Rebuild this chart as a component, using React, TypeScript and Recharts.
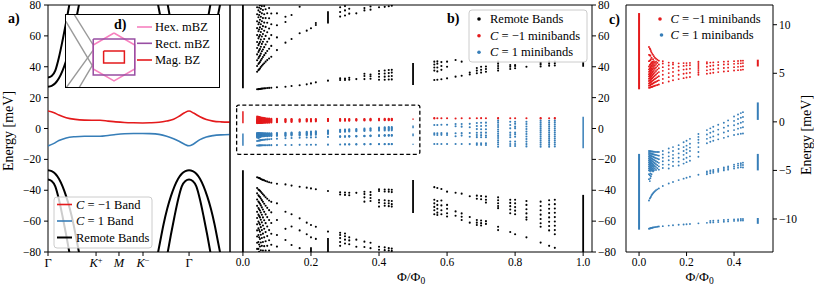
import React from 'react'
import { ComposedChart, Line, Scatter, XAxis, YAxis, ReferenceArea, ReferenceLine } from 'recharts'

const RED = '#e41a1c'
const BLUE = '#377eb8'
const PINK = '#f781bf'
const PURPLE = '#984ea3'
const GREY = '#999999'
const INK = '#000000'
const FONT = '"Liberation Serif", "Times New Roman", serif'
const W = 814
const H = 287
const AX = 30 // room kept for each axis

// ── a) bands along Γ – K+ – M – K− – Γ ──────────────────────────────────
const PATH_TICKS = [0, 0.264, 0.39, 0.522, 0.775]
const PATH_LABELS = ['Γ', 'K+', 'M', 'K−', 'Γ']
const BAND_K = [0, 0.03, 0.06, 0.1, 0.15, 0.2, 0.24, 0.286, 0.33, 0.372, 0.42, 0.469, 0.52, 0.56, 0.61, 0.652, 0.69, 0.72, 0.75, 0.775, 0.8, 0.835, 0.87, 0.907, 0.95, 1]
const BAND_CM1 = [11.3, 10.4, 8.7, 7.0, 5.9, 5.4, 5.3, 5.3, 4.8, 4.3, 3.9, 3.7, 3.6, 3.7, 4.0, 4.8, 6.0, 7.9, 10.2, 11.3, 10.0, 7.6, 5.8, 4.8, 4.3, 4.1]
const BAND_C1 = [-11.3, -9.8, -7.8, -6.1, -5.3, -5.0, -5.0, -5.0, -4.5, -3.9, -3.4, -3.2, -3.2, -3.3, -3.8, -5.0, -6.6, -8.3, -10.2, -11.2, -10.0, -7.2, -5.5, -4.6, -4.1, -3.9]
// remote bands around each Γ: distance along path, |E|
const REMOTE_DK = [0, 0.02, 0.04, 0.06, 0.08, 0.1, 0.12, 0.14, 0.16, 0.18]
const REMOTE_INNER = [27, 27.6, 29.3, 32.5, 37.5, 44, 52, 62, 74, 86]
const REMOTE_OUTER = [33, 34, 37.5, 46, 57, 69, 82]

// ── d) inset zones (hexagon radius = 1) ─────────────────────────────────
const HEX_BZ = [[0, 1], [0.866, 0.5], [0.866, -0.5], [0, -1], [-0.866, -0.5], [-0.866, 0.5], [0, 1]]
const RECT_BZ = [[-0.866, 0.75], [0.866, 0.75], [0.866, -0.75], [-0.866, -0.75], [-0.866, 0.75]]
const MAG_BZ = [[-0.433, 0.25], [0.433, 0.25], [0.433, -0.25], [-0.433, -0.25], [-0.433, 0.25]]
const GREY_EDGES = [
  [[-2.04, 1.54], [-0.866, -0.42]],
  [[-1.67, 1.79], [-0.866, 0.5]],
  [[-0.866, 0.29], [-2.0, -1.29]],
  [[-0.866, -0.29], [-1.46, -1.29]],
]

// ── b), c) Hofstadter spectrum, Φ/Φ0 < 1/2 ──────────────────────────────
const FLUX_LO = [0.0417, 0.0455, 0.0476, 0.05, 0.0526, 0.0556, 0.0588, 0.0625, 0.0667, 0.0714, 0.0769, 0.0833, 0.1, 0.125, 0.1429, 0.1667, 0.1875, 0.2, 0.2143, 0.25, 0.2857, 0.3, 0.3125, 0.3333, 0.3571, 0.375, 0.4, 0.4167, 0.4286, 0.4375]

const CM1_LO = [
  [3.5, 3.72, 3.95, 4.2, 4.43, 4.68, 4.9, 5.15, 5.4, 5.7, 6.25, 6.9, 7.7],
  [3.52, 3.76, 4.0, 4.25, 4.5, 4.74, 4.98, 5.23, 5.5, 5.85, 6.3, 6.85, 7.55],
  [3.55, 3.8, 4.06, 4.3, 4.56, 4.8, 5.05, 5.3, 5.58, 5.9, 6.35, 6.8, 7.45],
  [3.57, 3.84, 4.1, 4.37, 4.63, 4.9, 5.15, 5.42, 5.7, 6.0, 6.45, 7.3],
  [3.6, 3.88, 4.16, 4.44, 4.7, 4.98, 5.26, 5.52, 5.8, 6.1, 6.6, 7.15],
  [3.62, 3.92, 4.22, 4.5, 4.8, 5.1, 5.38, 5.66, 5.95, 6.2, 7.0],
  [3.65, 3.96, 4.27, 4.58, 4.9, 5.2, 5.5, 5.8, 6.1, 6.45, 6.9],
  [3.68, 4.02, 4.35, 4.68, 5.0, 5.33, 5.65, 5.95, 6.25, 6.75],
  [3.72, 4.07, 4.42, 4.77, 5.12, 5.46, 5.8, 6.1, 6.6],
  [3.76, 4.13, 4.5, 4.87, 5.24, 5.6, 5.95, 6.2, 6.5],
  [3.8, 4.2, 4.6, 5.0, 5.38, 5.75, 6.08, 6.4],
  [3.85, 4.27, 4.7, 5.12, 5.52, 5.9, 6.3],
  [4.0, 4.42, 4.85, 5.25, 5.63, 6.0, 6.25],
  [4.15, 4.6, 5.02, 5.43, 5.8, 6.1],
  [4.28, 4.72, 5.14, 5.55, 5.9, 6.08],
  [4.4, 4.85, 5.28, 5.68, 6.02],
  [4.5, 4.95, 5.38, 5.76, 6.05],
  [4.56, 5.0, 5.42, 5.8, 6.05],
  [4.62, 5.05, 5.47, 5.83, 6.07],
  [4.85, 5.05, 5.25, 5.45, 5.65, 5.85, 6.05, 6.2],
  [4.95, 5.3, 5.68, 6.0, 6.15],
  [5.0, 5.38, 5.75, 6.1],
  [5.05, 5.42, 5.8, 6.12],
  [5.12, 5.5, 5.86, 6.15],
  [5.18, 5.55, 5.9, 6.2],
  [5.22, 5.58, 5.93, 6.22],
  [5.28, 5.63, 5.97, 6.25],
  [5.32, 5.66, 6.0, 6.27],
  [5.35, 5.69, 6.02, 6.29],
  [5.38, 5.72, 6.05, 6.3],
]

const C1_LO = [
  [-3.0, -3.2, -3.4, -3.6, -3.8, -4.0, -4.2, -4.4, -4.6, -4.8, -5.0, -5.4, -5.9, -8.1, -11.0],
  [-3.02, -3.22, -3.43, -3.63, -3.84, -4.04, -4.25, -4.45, -4.66, -4.86, -5.05, -5.5, -6.1, -7.9, -10.98],
  [-3.03, -3.25, -3.46, -3.68, -3.9, -4.1, -4.32, -4.53, -4.74, -4.95, -5.3, -5.8, -7.8, -10.96],
  [-3.04, -3.27, -3.5, -3.72, -3.95, -4.18, -4.4, -4.62, -4.84, -5.05, -5.6, -7.7, -10.94],
  [-3.05, -3.29, -3.53, -3.77, -4.0, -4.24, -4.48, -4.7, -4.93, -5.4, -7.55, -10.92],
  [-3.06, -3.31, -3.56, -3.81, -4.06, -4.31, -4.55, -4.79, -5.02, -7.45, -10.9],
  [-3.07, -3.34, -3.6, -3.86, -4.12, -4.38, -4.63, -4.88, -5.1, -7.35, -10.88],
  [-3.08, -3.36, -3.64, -3.92, -4.2, -4.47, -4.74, -5.0, -7.25, -10.86],
  [-3.09, -3.39, -3.69, -3.98, -4.27, -4.56, -4.84, -7.15, -10.84],
  [-3.1, -3.42, -3.74, -4.05, -4.36, -4.66, -4.95, -7.05, -10.82],
  [-3.1, -3.45, -3.79, -4.13, -4.46, -4.78, -6.95, -10.8],
  [-3.1, -3.48, -3.85, -4.22, -4.58, -4.92, -6.85, -10.78],
  [-3.0, -3.35, -3.7, -4.05, -4.4, -4.75, -6.6, -10.74],
  [-2.75, -3.15, -3.55, -3.95, -4.4, -4.8, -6.35, -10.68],
  [-2.6, -3.0, -3.4, -3.75, -4.1, -4.55, -6.2, -10.65],
  [-2.4, -2.8, -3.25, -3.7, -4.1, -4.5, -6.0, -10.6],
  [-2.1, -2.6, -3.0, -3.4, -3.85, -4.3, -5.85, -10.57],
  [-1.95, -2.45, -2.85, -3.2, -3.7, -4.15, -5.75, -10.55],
  [-1.75, -2.25, -2.65, -3.0, -3.55, -4.0, -5.65, -10.52],
  [-1.25, -1.55, -1.85, -2.15, -2.6, -3.1, -3.6, -5.45, -10.45],
  [-0.85, -1.3, -1.75, -2.2, -5.1, -5.25, -5.4, -10.4],
  [-0.67, -1.12, -1.6, -2.05, -5.0, -5.15, -5.3, -10.37, -10.2],
  [-0.5, -1.0, -1.5, -1.95, -4.95, -5.1, -5.25, -10.35, -10.18],
  [-0.3, -0.8, -1.3, -1.8, -4.85, -5.0, -5.15, -10.32, -10.15],
  [-0.1, -0.6, -1.1, -1.65, -4.7, -4.85, -5.0, -10.28, -10.1],
  [0.15, -0.4, -0.95, -1.5, -4.6, -4.75, -4.92, -10.25, -10.08],
  [0.55, 0.1, -0.35, -0.85, -1.35, -4.4, -4.6, -4.8, -10.2, -10.05],
  [0.75, 0.3, -0.2, -0.7, -1.28, -4.3, -4.5, -4.72, -10.18, -10.02],
  [0.9, 0.42, -0.1, -0.62, -1.22, -4.25, -4.45, -4.68, -10.16, -10.0],
  [1.0, 0.5, 0.0, -0.55, -1.2, -4.2, -4.45, -4.7, -10.15, -10.0],
]

const REMOTE_UP_LO = [
  [25.4, 36.8, 40.5, 44.2, 48, 52.1, 56, 60.5, 65, 69.4, 74, 78.5],
  [25.5, 37.8, 41.8, 45.5, 49.6, 54, 58.4, 63, 67.5, 72.1, 76.5],
  [25.55, 38.3, 42.4, 46.4, 50.6, 55, 59.5, 64.1, 68.7, 73.5, 78.3],
  [25.6, 38.9, 43, 47.2, 51.5, 56, 60.6, 65.5, 70.4, 75.5, 79.8],
  [25.7, 39.8, 44.1, 48.5, 53, 57.6, 62.5, 67.5, 72.4, 77.5],
  [25.8, 40.6, 45.2, 50, 54.8, 59.6, 64.5, 69.5, 74.6, 79.3],
  [25.9, 41.5, 46.3, 51.2, 56.2, 61.2, 66.3, 71.5, 76.8],
  [26.0, 42.3, 47.5, 52.7, 58, 63.3, 68.6, 74, 79.3],
  [26.1, 43.3, 48.8, 54.4, 60, 65.8, 71.5, 77.2],
  [26.2, 44.3, 50.2, 56.2, 62.3, 68.5, 74.7],
  [26.3, 45.3, 51.7, 58.2, 64.8, 71.4, 78],
  [26.4, 46.5, 53.5, 60.5, 67.5, 74.5],
  [26.7, 50.8, 59, 66.9, 74.6],
  [27.0, 55.6, 69, 72.4],
  [27.5, 58.0, 73.5],
  [28.0, 61.7, 78.9],
  [28.6, 63.4],
  [29.2, 64.9],
  [29.9, 67, 68.3],
  [31.0],
  [31.4, 32.5, 72.5, 75.5, 78.5],
  [31.4, 32.3, 73.2, 76.5, 79.3],
  [31.6, 32.8, 74.4, 77.6],
  [32.0, 74.6],
  [32.0, 34.0, 35.5, 76.5, 78],
  [32.2, 33.8, 35.0, 77, 79],
  [31.6, 33.5, 35.4, 37.2, 78.5],
  [31.6, 33.6, 35.6, 37.6, 78.8],
  [31.7, 33.8, 35.9, 37.9, 79.2],
  [31.8, 34.0, 36.2, 38.0, 79.5],
]

const REMOTE_DN_LO = [
  [-31.6, -38.5, -42, -46, -50.1, -54, -58, -62.1, -66, -70, -74, -78],
  [-31.9, -39.5, -43.3, -47.3, -51.5, -55.8, -60.2, -64.6, -69, -73.5, -78],
  [-32.1, -39.9, -43.9, -48, -52.3, -56.7, -61.2, -65.8, -70.4, -75.1, -79.8],
  [-32.3, -40.3, -44.4, -48.7, -53.1, -57.6, -62.2, -66.9, -71.6, -76.4],
  [-32.7, -41, -45.3, -49.8, -54.4, -59.1, -63.9, -68.8, -73.8, -78.9],
  [-33.0, -41.8, -46.4, -51.1, -55.9, -60.8, -65.8, -70.9, -76],
  [-33.3, -42.6, -47.5, -52.5, -57.6, -62.8, -68.1, -73.5, -79],
  [-33.6, -43.5, -48.7, -54, -59.4, -64.9, -70.5, -76.2],
  [-34.0, -44.5, -50, -55.6, -61.3, -67.1, -73, -79],
  [-34.4, -45.5, -51.4, -57.4, -63.5, -69.7, -76],
  [-34.8, -46.6, -52.9, -59.3, -65.8, -72.4, -79],
  [-35.1, -47.5, -54.3, -61.2, -68.2, -75.3],
  [-35.8, -48.5, -59.3, -69, -76.5],
  [-36.2, -53.9, -65, -72.2],
  [-37.0, -55.5, -63.5, -75.5],
  [-37.7, -58.2, -66, -77.5],
  [-38.3, -61, -68.5],
  [-38.8, -62.5, -70.5],
  [-39.4, -63.6, -71.5],
  [-40.5, -66.8],
  [-41.3, -42.8, -67.5, -69, -71, -73.5, -76],
  [-41.5, -43.0, -68, -69.8, -72, -74.5],
  [-41.6, -43.2, -70.5, -72.5, -75],
  [-41.7, -72, -76.6],
  [-41, -42.5, -44.6, -47.4, -73.3, -76.8],
  [-41.2, -43, -45, -47, -74, -77.5],
  [-39.4, -40.5, -46.3, -48, -50.6, -76.6, -78.5],
  [-39.5, -40.8, -46.5, -48.4, -50, -77, -78.8],
  [-39.6, -41, -46.8, -48.5, -50.3, -77.5, -79],
  [-39.7, -41.2, -47, -49, -50.6, -77.8, -79.3],
]

// ── b) Φ/Φ0 > 1/2 ───────────────────────────────────────────────────────
const FLUX_HI = [0.5625, 0.5714, 0.5833, 0.6, 0.625, 0.6429, 0.6667, 0.6875, 0.7, 0.7143, 0.75, 0.7857, 0.8, 0.8333, 0.875, 0.9, 0.9167]
const CM1_HI = [[6.5, 6.8], [6.6], [6.6], [6.6], [6.5], [6.6], [6.6], [6.6], [6.7], [6.6], [6.5, 6.8], [6.6], [6.6], [6.6], [6.5, 6.8], [6.6], [6.5, 6.8]]
const C1_HI = [
  [2.3, -3.1, -4.0, -10.0],
  [2.3, -3.1, -4.2, -10.0],
  [2.4, -3.0, -4.1, -10.0],
  [2.4, -3.1, -4.2, -10.0],
  [2.9, 1.5, -3.1, -5.0, -10.0],
  [2.9, 1.2, -3.0, -4.6, -10.0],
  [3.0, 0.8, -2.9, -5.3, -10.1],
  [3.6, 1.6, -0.4, -2.8, -4.2, -5.6, -9.6, -10.6],
  [3.7, 1.6, -0.5, -2.7, -4.3, -5.7, -9.6, -10.6],
  [3.8, 1.8, -0.5, -2.7, -4.5, -5.7, -9.6, -10.7],
  [5.1, 3.8, 2.3, 0.9, -0.6, -2.0, -3.4, -4.8, -6.2, -7.6, -9.0, -10.4, -11.8],
  [4.4, 2.3, 0.1, -2.7, -4.2, -5.7, -8.5, -10.0, -11.3],
  [4.4, 3.0, 1.2, 0.1, -2.7, -3.8, -5.3, -8.5, -10.0, -11.3],
  [4.4, 2.9, 1.3, -0.3, -2.0, -3.6, -5.2, -6.8, -8.5, -10.1, -11.6],
  [5.1, 3.8, 2.5, 1.2, -0.1, -1.4, -2.7, -4.0, -5.3, -6.6, -7.9, -9.2, -10.5, -11.8],
  [5.0, 3.7, 2.4, 1.1, -0.2, -1.5, -2.8, -4.1, -5.4, -6.7, -8.0, -9.3, -10.6, -11.8],
  [5.1, 3.9, 2.6, 1.3, 0.0, -1.3, -2.6, -3.9, -5.2, -6.5, -7.8, -9.1, -10.4, -11.7],
]
const REMOTE_UP_HI = [
  [31.4, 37.5, 39.5, 41.5, 43.3],
  [31.6, 37, 39.5, 42, 43.5],
  [31.9, 38, 40.5, 43],
  [32.5, 40, 43.3],
  [33.6, 44.4],
  [34.2, 43.3],
  [35.0, 36.2],
  [35.8, 37.5, 39.2],
  [36.2, 38, 40],
  [36.8, 38.5, 40.2],
  [37.5, 39, 40.5, 42, 43.3],
  [38.5, 40, 41.1],
  [39, 40.5, 41.1],
  [40],
  [40.2, 41.5, 42.5],
  [40.6, 42, 43.3],
  [40.8, 42.2, 43.3],
]
const REMOTE_DN_HI = [
  [-38.0, -46.2, -48.5, -50.8, -53, -55.5],
  [-38.5, -47, -49.5, -52, -54.5, -56],
  [-39.2, -46.6, -49.8, -53, -55.5],
  [-40.9, -49.5, -52, -54.9, -57],
  [-41.6, -53.7, -56.5],
  [-42.2, -55, -57.2, -59.3],
  [-43.9, -57.3, -61],
  [-43.5, -45.5, -59.3, -61, -62.5],
  [-43.8, -45.8, -59.6, -61.3, -62.8],
  [-44.1, -46.2, -48, -60, -61.8],
  [-44.6, -46.5, -48.4, -50.2, -51.6, -63.6, -65.8],
  [-46.2, -48.2, -50.3, -52.5, -54.9, -67],
  [-46.2, -48.5, -50.9, -53.2, -55.5, -68.5],
  [-47, -49.5, -52.3, -55, -57.5, -59, -70.5],
  [-47.4, -50.2, -53, -55.8, -58.6, -61.4, -63.6, -73.9],
  [-46.5, -49.2, -52, -54.8, -57.6, -60.4, -63.2, -66, -76],
  [-46.2, -49, -51.8, -54.6, -57.4, -60.2, -63, -65.8, -68.5, -77.3],
]

// continuous bands drawn as bars: [Φ/Φ0, E from, E to]
const REMOTE_BARS = [[0, 26, 80], [0, -27, -80], [0.2, -77, -80], [0.25, 68, 76], [0.25, -71, -80], [0.5, 28.2, 42.5], [0.5, -33.3, -54.8], [1, 40, 43.3], [1, -43, -80]]
const CM1_BARS = [[0, 3.35, 11.2], [0.5, 5.7, 6.4]]
const C1_BARS = [[0, -3.3, -11.1], [0.5, 0.2, 2.0], [0.5, -3.3, -5.0], [0.5, -9.9, -10.5], [1, 7.6, -12.8]]

const E_TICKS = [-80, -60, -40, -20, 0, 20, 40, 60, 80]
const PHI_TICKS_B = [0, 0.2, 0.4, 0.6, 0.8, 1]
const PHI_TICKS_C = [0, 0.2, 0.4]
const E_TICKS_C = [-10, -5, 0, 5, 10]

const columns = (flux: number[], levels: number[][]) =>
  flux.flatMap((x, i) => (levels[i] || []).map((y) => ({ x, y })))

const fmtE = (v: number) => (v < 0 ? '\u2212' + Math.abs(v) : String(v))
const tickStyle = { fill: INK, fontSize: 11.5, fontFamily: FONT }

const dot = (r: number, fill: string) => (p: any) =>
  p.cx == null ? <g /> : <circle cx={p.cx} cy={p.cy} r={r} fill={fill} />

const bars = (rows: number[][], color: string, w: number) =>
  rows.map((b, i) => (
    <ReferenceLine
      key={color + i}
      segment={[{ x: b[0], y: b[1] }, { x: b[0], y: b[2] }]}
      stroke={color}
      strokeWidth={w}
      ifOverflow="hidden"
    />
  ))

// plot box [left, top, right, bottom] in page pixels -> chart margins
const box = (l: number, t: number, r: number, b: number, leftAxis: boolean) => ({
  top: t,
  bottom: H - b - AX,
  left: leftAxis ? l - AX : l,
  right: leftAxis ? W - r : W - r - AX,
})

function PathTick(props: any) {
  const { x, y, index } = props
  const lab = PATH_LABELS[index] || ''
  const style = { fontFamily: FONT, fontSize: 12.5, fill: INK }
  if (lab === 'Γ') {
    return <text x={x} y={y} dy="0.75em" textAnchor="middle" {...style}>Γ</text>
  }
  if (lab === 'M') {
    return <text x={x} y={y} dy="0.75em" textAnchor="middle" fontStyle="italic" {...style}>M</text>
  }
  return (
    <text x={x} y={y} dy="0.75em" textAnchor="middle" {...style}>
      <tspan fontStyle="italic">K</tspan>
      <tspan fontSize={8.5} dy={-4.5}>{lab.slice(1)}</tspan>
    </text>
  )
}

const toPts = (k: number[], e: number[]) => k.map((x, i) => ({ x, y: e[i] }))

function remoteCurves() {
  const g2 = PATH_TICKS[4]
  const out: { x: number; y: number }[][] = []
  for (const mag of [REMOTE_INNER, REMOTE_OUTER]) {
    for (const s of [1, -1]) {
      out.push(mag.map((e, i) => ({ x: REMOTE_DK[i], y: s * e })))
      const left = mag.map((e, i) => ({ x: g2 - REMOTE_DK[i], y: s * e })).reverse()
      const right = mag.slice(1).map((e, i) => ({ x: g2 + REMOTE_DK[i + 1], y: s * e }))
      out.push([...left, ...right])
    }
  }
  return out
}

const xAxisProps = {
  type: 'number' as const,
  dataKey: 'x',
  interval: 0 as const,
  height: AX,
  tickSize: 4,
  tickMargin: 2,
  axisLine: false,
  tickLine: { stroke: INK },
  allowDataOverflow: true,
}
const yAxisProps = {
  type: 'number' as const,
  dataKey: 'y',
  interval: 0 as const,
  width: AX,
  tickSize: 4,
  axisLine: false,
  tickLine: { stroke: INK },
  tick: tickStyle,
  tickFormatter: fmtE,
  allowDataOverflow: true,
}

function BandPanel() {
  return (
    <ComposedChart width={W} height={H} margin={box(48, 5, 230, 252, true)}>
      <XAxis {...xAxisProps} domain={[0, 1]} ticks={PATH_TICKS} tick={<PathTick />} />
      <YAxis {...yAxisProps} domain={[-80, 80]} ticks={E_TICKS} tickMargin={3} />
      {remoteCurves().map((c, i) => (
        <Line key={'r' + i} data={c} dataKey="y" type="monotone" stroke={INK} strokeWidth={2}
          dot={false} isAnimationActive={false} />
      ))}
      <Line data={toPts(BAND_K, BAND_CM1)} dataKey="y" type="monotone" stroke={RED} strokeWidth={1.6} dot={false} isAnimationActive={false} />
      <Line data={toPts(BAND_K, BAND_C1)} dataKey="y" type="monotone" stroke={BLUE} strokeWidth={1.6} dot={false} isAnimationActive={false} />
      <ReferenceArea x1={0} x2={1} y1={-80} y2={80} fill="none" stroke={INK} ifOverflow="visible" />
    </ComposedChart>
  )
}

function SpectrumPanel() {
  const remote = [...columns(FLUX_LO, REMOTE_UP_LO), ...columns(FLUX_LO, REMOTE_DN_LO), ...columns(FLUX_HI, REMOTE_UP_HI), ...columns(FLUX_HI, REMOTE_DN_HI)]
  const cm1 = [...columns(FLUX_LO, CM1_LO), ...columns(FLUX_HI, CM1_HI)]
  const c1 = [...columns(FLUX_LO, C1_LO), ...columns(FLUX_HI, C1_HI)]
  return (
    <ComposedChart width={W} height={H} margin={box(230, 5, 592, 252, false)}>
      <XAxis {...xAxisProps} domain={[-0.038, 1.026]} ticks={PHI_TICKS_B} tick={tickStyle}
        tickFormatter={(v: number) => v.toFixed(1)} />
      <YAxis {...yAxisProps} orientation="right" domain={[-80, 80]} ticks={E_TICKS} tickMargin={2} />
      {bars(REMOTE_BARS, INK, 1.8)}
      {bars(CM1_BARS, RED, 1.5)}
      {bars(C1_BARS, BLUE, 1.5)}
      <Scatter data={remote} shape={dot(1.05, INK)} isAnimationActive={false} />
      <Scatter data={cm1} shape={dot(1.05, RED)} isAnimationActive={false} />
      <Scatter data={c1} shape={dot(1.05, BLUE)} isAnimationActive={false} />
      <ReferenceArea x1={-0.0185} x2={0.52} y1={-16.7} y2={15.2} fill="none" stroke={INK}
        strokeWidth={1.3} strokeDasharray="4 2.5" radius={2} ifOverflow="visible" />
      <ReferenceArea x1={-0.038} x2={1.026} y1={-80} y2={80} fill="none" stroke={INK} ifOverflow="visible" />
    </ComposedChart>
  )
}

function ZoomPanel() {
  return (
    <ComposedChart width={W} height={H} margin={box(626, 5, 773, 252, false)}>
      <XAxis {...xAxisProps} domain={[-0.055, 0.564]} ticks={PHI_TICKS_C} tick={tickStyle}
        tickFormatter={(v: number) => v.toFixed(1)} />
      <YAxis {...yAxisProps} orientation="right" domain={[-13.4, 12.03]} ticks={E_TICKS_C} tickMargin={2} />
      {bars(CM1_BARS, RED, 2)}
      {bars(C1_BARS, BLUE, 2)}
      <Scatter data={columns(FLUX_LO, CM1_LO)} shape={dot(0.95, RED)} isAnimationActive={false} />
      <Scatter data={columns(FLUX_LO, C1_LO)} shape={dot(0.95, BLUE)} isAnimationActive={false} />
      <ReferenceArea x1={-0.055} x2={0.564} y1={-13.4} y2={12.03} fill="none" stroke={INK} ifOverflow="visible" />
    </ComposedChart>
  )
}

const poly = (pts: number[][]) => pts.map(([x, y]) => ({ x, y }))

function ZoneInset() {
  return (
    <div style={{ position: 'absolute', left: 65, top: 14, width: 155, height: 74, boxSizing: 'border-box', border: '1px solid #000', background: '#fff' }}>
      <ComposedChart width={153} height={72} margin={{ top: 0, left: 0, right: 0, bottom: 0 }}>
        <XAxis type="number" dataKey="x" domain={[-2.0, 4.375]} hide allowDataOverflow />
        <YAxis type="number" dataKey="y" domain={[-1.25, 1.75]} hide allowDataOverflow />
        {GREY_EDGES.map((g, i) => (
          <Line key={'g' + i} data={poly(g)} dataKey="y" type="linear" stroke={GREY} strokeWidth={1.4} dot={false} isAnimationActive={false} />
        ))}
        <Line data={poly(HEX_BZ)} dataKey="y" type="linear" stroke={PINK} strokeWidth={1.5} dot={false} isAnimationActive={false} />
        <Line data={poly(RECT_BZ)} dataKey="y" type="linear" stroke={PURPLE} strokeWidth={1.5} dot={false} isAnimationActive={false} />
        <Line data={poly(MAG_BZ)} dataKey="y" type="linear" stroke={RED} strokeWidth={1.5} dot={false} isAnimationActive={false} />
      </ComposedChart>
    </div>
  )
}

function Cm(props: { n: string; rest: string; x: number; y: number }) {
  return (
    <text x={props.x} y={props.y} fontSize={12.5}>
      <tspan fontStyle="italic">C</tspan>
      {' = ' + props.n + ' ' + props.rest}
    </text>
  )
}

function Overlay() {
  const lg = { fontSize: 12.5 }
  return (
    <svg width={W} height={H} style={{ position: 'absolute', left: 0, top: 0, pointerEvents: 'none' }}>
      <g fontFamily={FONT} fill={INK}>
        <text x={8} y={23} fontSize={14} fontWeight="bold">a)</text>
        <text x={447} y={23} fontSize={14} fontWeight="bold">b)</text>
        <text x={609} y={24} fontSize={14} fontWeight="bold">c)</text>
        <text x={114} y={29} fontSize={14} fontWeight="bold">d)</text>

        <text transform="translate(13,131) rotate(-90)" textAnchor="middle" fontSize={14}>Energy [meV]</text>
        <text transform="translate(810.5,135) rotate(-90)" textAnchor="middle" fontSize={14}>Energy [meV]</text>
        <text x={411} y={281} textAnchor="middle" fontSize={13.5}>Φ/Φ<tspan fontSize={9.5} dy={2.5}>0</tspan></text>
        <text x={699.5} y={281} textAnchor="middle" fontSize={13.5}>Φ/Φ<tspan fontSize={9.5} dy={2.5}>0</tspan></text>

        {/* inset legend */}
        <line x1={137} x2={152} y1={27} y2={27} stroke={PINK} strokeWidth={1.6} />
        <line x1={137} x2={152} y1={43.3} y2={43.3} stroke={PURPLE} strokeWidth={1.6} />
        <line x1={137} x2={152} y1={60} y2={60} stroke={RED} strokeWidth={1.6} />
        <text x={155} y={31} {...lg}>Hex. mBZ</text>
        <text x={155} y={47.5} {...lg}>Rect. mBZ</text>
        <text x={155} y={64} {...lg}>Mag. BZ</text>

        {/* a) legend */}
        <rect x={54} y={197} width={98} height={51} rx={3} fill="#fff" fillOpacity={0.8} stroke="#cccccc" />
        <line x1={57} x2={72} y1={204.5} y2={204.5} stroke={RED} strokeWidth={1.6} />
        <line x1={57} x2={72} y1={221} y2={221} stroke={BLUE} strokeWidth={1.6} />
        <line x1={57} x2={72} y1={237.5} y2={237.5} stroke={INK} strokeWidth={2} />
        <Cm x={76} y={208.5} n={'\u22121'} rest="Band" />
        <Cm x={76} y={225} n="1" rest="Band" />
        <text x={76} y={241.5} {...lg}>Remote Bands</text>

        {/* b) legend */}
        <rect x={469} y={10} width={118} height={52} rx={3} fill="#fff" fillOpacity={0.8} stroke="#cccccc" />
        <circle cx={479} cy={19} r={1.8} fill={INK} />
        <circle cx={479} cy={35.7} r={1.8} fill={RED} />
        <circle cx={479} cy={52.3} r={1.8} fill={BLUE} />
        <text x={490} y={23} {...lg}>Remote Bands</text>
        <Cm x={490} y={39.7} n={'\u22121'} rest="minibands" />
        <Cm x={490} y={56.3} n="1" rest="minibands" />

        {/* c) legend */}
        <circle cx={660} cy={19} r={1.8} fill={RED} />
        <circle cx={661.5} cy={35} r={1.8} fill={BLUE} />
        <Cm x={670.5} y={23} n={'\u22121'} rest="minibands" />
        <Cm x={670.5} y={39} n="1" rest="minibands" />
      </g>
    </svg>
  )
}

export default function App() {
  return (
    <div style={{ position: 'absolute', left: 0, top: 0, width: W, height: H, background: '#fff', overflow: 'hidden' }}>
      <div style={{ position: 'absolute', left: 0, top: 0 }}><BandPanel /></div>
      <div style={{ position: 'absolute', left: 0, top: 0 }}><SpectrumPanel /></div>
      <div style={{ position: 'absolute', left: 0, top: 0 }}><ZoomPanel /></div>
      <ZoneInset />
      <Overlay />
    </div>
  )
}
